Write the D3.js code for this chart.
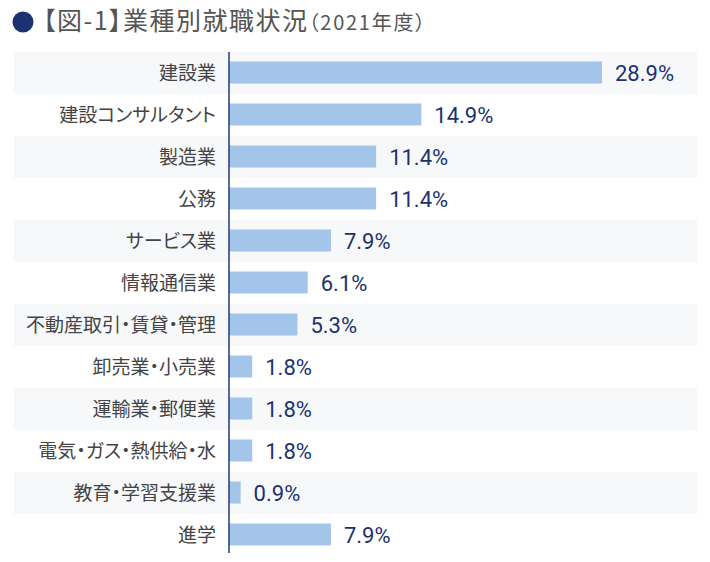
<!DOCTYPE html>
<html><head><meta charset="utf-8">
<script src="https://cdn.jsdelivr.net/npm/d3@7"></script>
<style>body{margin:0;background:#fff;}svg{display:block;} .cjk{font-feature-settings:"palt";}</style>
</head><body>
<svg id="c" width="710" height="562"></svg>
<script>
const categories = ["建設業","建設コンサルタント","製造業","公務","サービス業","情報通信業","不動産取引・賃貸・管理","卸売業・小売業","運輸業・郵便業","電気・ガス・熱供給・水","教育・学習支援業","進学"];
const values = [28.9,14.9,11.4,11.4,7.9,6.1,5.3,1.8,1.8,1.8,0.9,7.9];
const valueLabels = ["28.9%","14.9%","11.4%","11.4%","7.9%","6.1%","5.3%","1.8%","1.8%","1.8%","0.9%","7.9%"];
const titleMain = "【図-1】業種別就職状況";
const titleSub = "（2021年度）";

(function(){
const svg = d3.select("#c");
const x0 = 229, topY = 52, rowH = 42;
const x = d3.scaleLinear().domain([0, 28.9]).range([x0, 602]);
const y = d3.scaleBand().domain(categories).range([topY, topY + rowH*categories.length]).paddingInner(0).paddingOuter(0);
const font = "'Noto Sans CJK JP','Noto Sans',sans-serif";

svg.append("g").selectAll("rect").data(categories).join("rect")
  .attr("x", 14).attr("width", 683)
  .attr("y", d => y(d)).attr("height", y.bandwidth())
  .attr("fill", (d,i) => i % 2 === 0 ? "#f7f8fa" : "#ffffff");

const bh = 22;
svg.append("g").selectAll("rect").data(categories).join("rect")
  .attr("x", x(0)).attr("y", d => y(d) + (y.bandwidth()-bh)/2 - 0.5)
  .attr("width", (d,i) => x(values[i]) - x(0)).attr("height", bh)
  .attr("fill", "#a3c5ea");

const axis = d3.axisLeft(y).tickSize(0).tickPadding(12);
const ag = svg.append("g").attr("transform", `translate(${x0},0)`).call(axis);
ag.select(".domain").attr("stroke", "#1f3a7a").attr("stroke-width", 1.5).attr("d", `M0,${topY}V${topY + rowH*categories.length - 3}`);
ag.selectAll(".tick text").attr("class", "cjk").attr("font-family", font).attr("font-size", 19).attr("fill", "#444").attr("dy", "0.35em").attr("x", -13);

svg.append("g").selectAll("text").data(categories).join("text")
  .attr("x", (d,i) => x(values[i]) + 13)
  .attr("y", d => y(d) + y.bandwidth()/2)
  .attr("dy", "0.37em")
  .attr("font-family", "Roboto,'Noto Sans',sans-serif").attr("font-size", 22)
  .attr("fill", "#1a3370")
  .text((d,i) => valueLabels[i]);

svg.append("circle").attr("cx", 23).attr("cy", 22).attr("r", 10.5).attr("fill", "#1a3370");
const t = svg.append("text").attr("class", "cjk").attr("x", 43).attr("y", 30).attr("font-family", font).attr("fill", "#555");
t.append("tspan").attr("font-size", 25).attr("letter-spacing", 1.5).text(titleMain);
t.append("tspan").attr("font-size", 20).attr("letter-spacing", 1.75).text(titleSub);
})();
</script>
</body></html>
